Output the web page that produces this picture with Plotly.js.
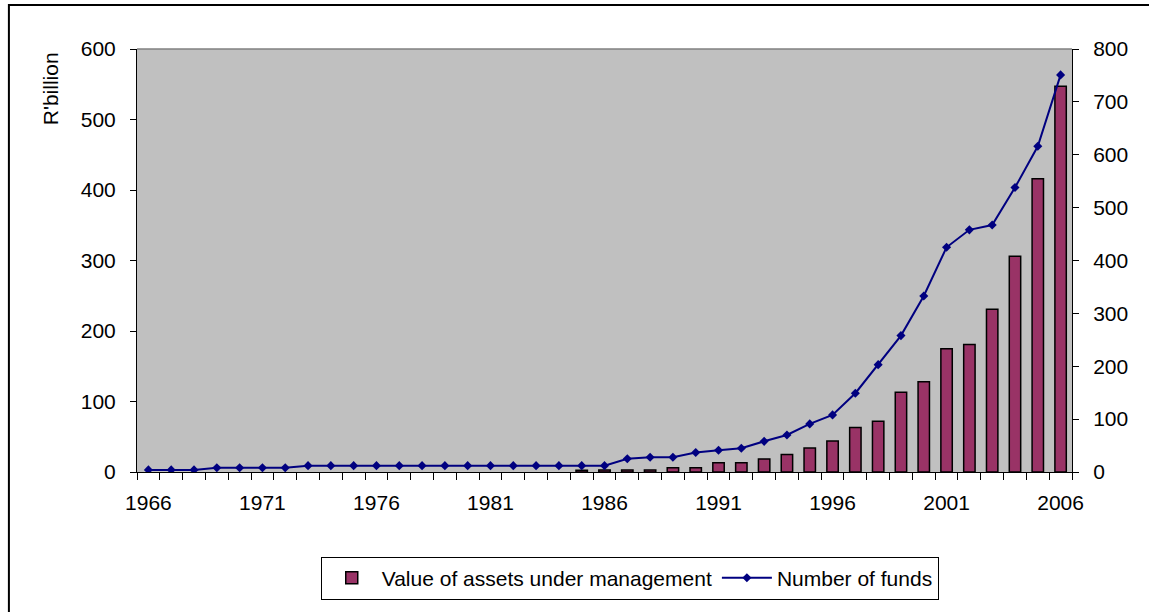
<!DOCTYPE html>
<html>
<head>
<meta charset="utf-8">
<script src="https://cdn.plot.ly/plotly-3.0.1.min.js"></script>
<style>
html,body{margin:0;padding:0;background:#fff;}
#chart{width:1149px;height:612px;}
</style>
</head>
<body>
<div id="chart"></div>
<script>
// Years (categories)
var years = [1966,1967,1968,1969,1970,1971,1972,1973,1974,1975,1976,1977,1978,1979,1980,
             1981,1982,1983,1984,1985,1986,1987,1988,1989,1990,1991,1992,1993,1994,1995,
             1996,1997,1998,1999,2000,2001,2002,2003,2004,2005,2006];
// Value of assets under management (R'billion)
var assets = [null,null,null,null,null,null,null,null,null,null,null,null,null,null,null,
              null,null,null,null,2.5,3,3,3,6,6,13,13,18.5,25,34,
              44,63,72,113,128,175,181,231,306,416,547];
// Number of funds
var funds = [4,4,4,8,8,8,8,12,12,12,12,12,12,12,12,
             12,12,12,12,12,12,25,28,28,37,41,45,58,70,91,
             108,149,203,258,333,425,458,467,538,616,751];
// Tick labels on the x axis
var xTickYears = [1966,1971,1976,1981,1986,1991,1996,2001,2006];
var leftTicks = [0,100,200,300,400,500,600];
var rightTicks = [0,100,200,300,400,500,600,700,800];

var FONT = 'Liberation Sans, Arial, sans-serif';
var FS = 21;

var traces = [
  {
    type: 'bar',
    name: 'Value of assets under management',
    x: years,
    y: assets,
    width: 0.5,
    marker: {color: '#993366', line: {color: '#000000', width: 1.5}},
    yaxis: 'y',
    hoverinfo: 'x+y'
  },
  {
    type: 'scatter',
    mode: 'lines+markers',
    name: 'Number of funds',
    x: years,
    y: funds,
    yaxis: 'y2',
    line: {color: '#000080', width: 2},
    marker: {symbol: 'diamond', size: 7, color: '#000080'}
  }
];

var layout = {
  width: 1149,
  height: 612,
  margin: {l: 137, r: 77, t: 49, b: 140},
  paper_bgcolor: '#ffffff',
  plot_bgcolor: '#c0c0c0',
  font: {family: FONT, size: FS, color: '#000000'},
  showlegend: true,
  legend: {
    orientation: 'h',
    x: 0.527, xanchor: 'center',
    y: -0.2, yanchor: 'top',
    bgcolor: '#ffffff',
    bordercolor: '#000000',
    borderwidth: 1,
    font: {family: FONT, size: FS, color: '#000000'},
    itemwidth: 50,
    traceorder: 'normal'
  },
  xaxis: {
    type: 'linear',
    range: [1965.5, 2006.5],
    tickmode: 'array',
    tickvals: xTickYears,
    ticktext: xTickYears.map(String),
    ticks: '',
    showgrid: false,
    zeroline: false,
    showline: true,
    linecolor: '#000000',
    linewidth: 1,
    ticklabelstandoff: 12,
    tickfont: {family: FONT, size: FS, color: '#000000'},
    minor: {
      tickmode: 'linear',
      tick0: 1965.5,
      dtick: 1,
      ticks: 'outside',
      ticklen: 7,
      tickcolor: '#000000',
      tickwidth: 1,
      showgrid: false
    },
    fixedrange: true
  },
  yaxis: {
    range: [0, 600],
    tickmode: 'array',
    tickvals: leftTicks,
    ticks: 'outside',
    ticklen: 6,
    tickcolor: '#000000',
    showgrid: false,
    zeroline: false,
    showline: true,
    linecolor: '#000000',
    linewidth: 1,
    ticklabelstandoff: 10,
    tickfont: {family: FONT, size: FS, color: '#000000'},
    fixedrange: true
  },
  yaxis2: {
    range: [0, 800],
    overlaying: 'y',
    side: 'right',
    tickmode: 'array',
    tickvals: rightTicks,
    ticks: 'outside',
    ticklen: 6,
    tickcolor: '#000000',
    showgrid: false,
    zeroline: false,
    showline: true,
    linecolor: '#000000',
    linewidth: 1,
    ticklabelstandoff: 10,
    tickfont: {family: FONT, size: FS, color: '#000000'},
    fixedrange: true
  },
  annotations: [
    {
      text: "R'billion",
      xref: 'paper', yref: 'paper',
      x: -0.093, y: 0.905,
      xanchor: 'center', yanchor: 'middle',
      textangle: -90,
      showarrow: false,
      font: {family: FONT, size: FS, color: '#000000'}
    }
  ],
  shapes: [
    {
      type: 'line', xref: 'paper', yref: 'paper',
      x0: 0, x1: 1, y0: 1, y1: 1,
      line: {color: '#808080', width: 1.5}
    },
    {
      type: 'rect', xref: 'paper', yref: 'paper',
      x0: -0.137, x1: 1.2, y0: -0.5, y1: 1.104,
      line: {color: '#000000', width: 2},
      fillcolor: 'rgba(0,0,0,0)'
    }
  ]
};

Plotly.newPlot('chart', traces, layout, {displayModeBar: false, staticPlot: true});
</script>
</body>
</html>
